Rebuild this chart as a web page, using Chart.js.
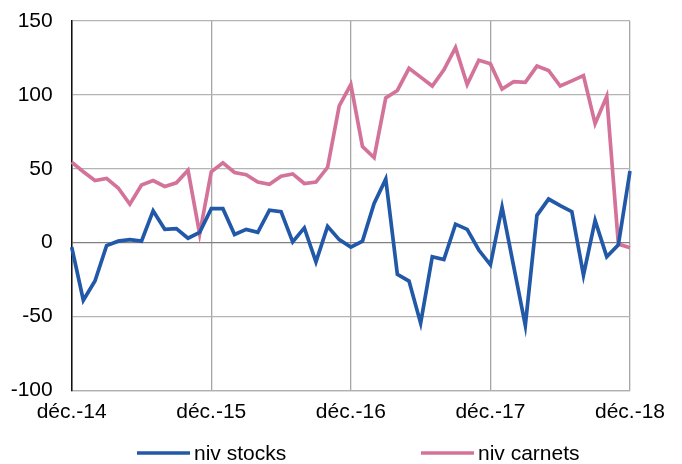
<!DOCTYPE html>
<html>
<head>
<meta charset="utf-8">
<script src="https://cdn.jsdelivr.net/npm/chart.js@4/dist/chart.umd.min.js"></script>
<style>
  html, body { margin: 0; padding: 0; background: #fff; }
  #wrap { width: 682px; height: 464px; }
</style>
</head>
<body>
<div id="wrap"><canvas id="c" width="682" height="464"></canvas></div>
<script>
const months = [
  "déc.-14",
  "janv.-15","févr.-15","mars-15","avr.-15","mai-15","juin-15","juil.-15","août-15","sept.-15","oct.-15","nov.-15","déc.-15",
  "janv.-16","févr.-16","mars-16","avr.-16","mai-16","juin-16","juil.-16","août-16","sept.-16","oct.-16","nov.-16","déc.-16",
  "janv.-17","févr.-17","mars-17","avr.-17","mai-17","juin-17","juil.-17","août-17","sept.-17","oct.-17","nov.-17","déc.-17",
  "janv.-18","févr.-18","mars-18","avr.-18","mai-18","juin-18","juil.-18","août-18","sept.-18","oct.-18","nov.-18","déc.-18"
];
const shownXLabels = ["déc.-14","déc.-15","déc.-16","déc.-17","déc.-18"];
const yTicks = [-100, -50, 0, 50, 100, 150];

const nivStocks = [-3, -39, -26, -2, 1, 2, 1, 21.5, 9, 9.5, 3, 7, 23, 23, 5.5, 9, 7, 22, 21, 0.5, 10, -13, 11, 2,
  -3, 1, 26.5, 43, -21.5, -26, -54.5, -9.5, -11.5, 12.5, 9, -5, -15, 24, -16, -56, 18.5, 29.5, 25, 21, -22, 15, -9.5, -1.5, 48.5];
const nivCarnets = [54.5, 48, 42, 43.5, 37, 26, 39, 42, 38, 40.5, 49, 6, 48, 54, 47.5, 46, 41, 39.5, 45, 46.5, 40, 41, 51, 92.5,
  107, 65, 57.5, 98, 103, 118, 112, 106, 117, 132, 107, 123.5, 121, 104, 109, 108.5, 119.5, 116.5, 106, 109.5, 113, 80.5, 99, -1, -3.5];

const seriesNames = ["niv stocks", "niv carnets"];
const seriesColors = ["#2159a8", "#d4739a"];

const FONT = "'Liberation Sans', Arial, sans-serif";

const customLegend = {
  id: 'customLegend',
  afterDraw(chart) {
    const ctx = chart.ctx;
    const pos = [{lx: 137, tx: 194}, {lx: 421, tx: 478}];
    const y = 453;
    ctx.save();
    chart.data.datasets.forEach((ds, i) => {
      const p = pos[i];
      ctx.strokeStyle = ds.borderColor;
      ctx.lineWidth = 3.5;
      ctx.beginPath();
      ctx.moveTo(p.lx, y);
      ctx.lineTo(p.lx + 53, y);
      ctx.stroke();
      ctx.fillStyle = '#000';
      ctx.font = "21px " + FONT;
      ctx.textBaseline = 'middle';
      ctx.textAlign = 'left';
      ctx.fillText(ds.label, p.tx, y + 1);
    });
    ctx.restore();
  }
};

new Chart(document.getElementById('c'), {
  type: 'line',
  data: {
    labels: months,
    datasets: [
      { label: seriesNames[0], data: nivStocks, borderColor: seriesColors[0], backgroundColor: seriesColors[0],
        borderWidth: 3.7, pointRadius: 0, tension: 0, fill: false },
      { label: seriesNames[1], data: nivCarnets, borderColor: seriesColors[1], backgroundColor: seriesColors[1],
        borderWidth: 3.7, pointRadius: 0, tension: 0, fill: false }
    ]
  },
  options: {
    responsive: false,
    animation: false,
    devicePixelRatio: 1,
    layout: { padding: { left: 0, right: 52, top: 21, bottom: 0 } },
    plugins: { legend: { display: false }, tooltip: { enabled: false } },
    scales: {
      x: {
        type: 'category',
        offset: false,
        afterFit: (s) => { s.height = 73.6; s.paddingLeft = 0; s.paddingRight = 0; },
        grid: {
          drawTicks: false,
          lineWidth: 1.3,
          color: (c) => (c.tick && shownXLabels.includes(months[c.index])) ? '#a6a6a6' : 'rgba(0,0,0,0)'
        },
        border: { display: true, color: '#b0b0b0', width: 1.3 },
        ticks: {
          autoSkip: false,
          maxRotation: 0,
          padding: 9,
          color: '#000',
          font: { family: FONT, size: 21 },
          callback: function(v, i) { const l = months[i]; return shownXLabels.includes(l) ? l : ''; }
        }
      },
      y: {
        min: yTicks[0],
        max: yTicks[yTicks.length - 1],
        afterFit: (s) => { s.width = 71.7; s.paddingTop = 0; s.paddingBottom = 0; },
        afterBuildTicks: (s) => { s.ticks = yTicks.map(v => ({ value: v })); },
        grid: {
          drawTicks: false,
          lineWidth: 1.3,
          color: (c) => (c.tick && c.tick.value === 0) ? '#808080' : '#b4b4b4'
        },
        border: { display: true, color: '#111', width: 1.5 },
        ticks: {
          padding: 19,
          color: '#000',
          font: { family: FONT, size: 21 },
          callback: (v) => String(v)
        }
      }
    }
  },
  plugins: [customLegend]
});
</script>
</body>
</html>
